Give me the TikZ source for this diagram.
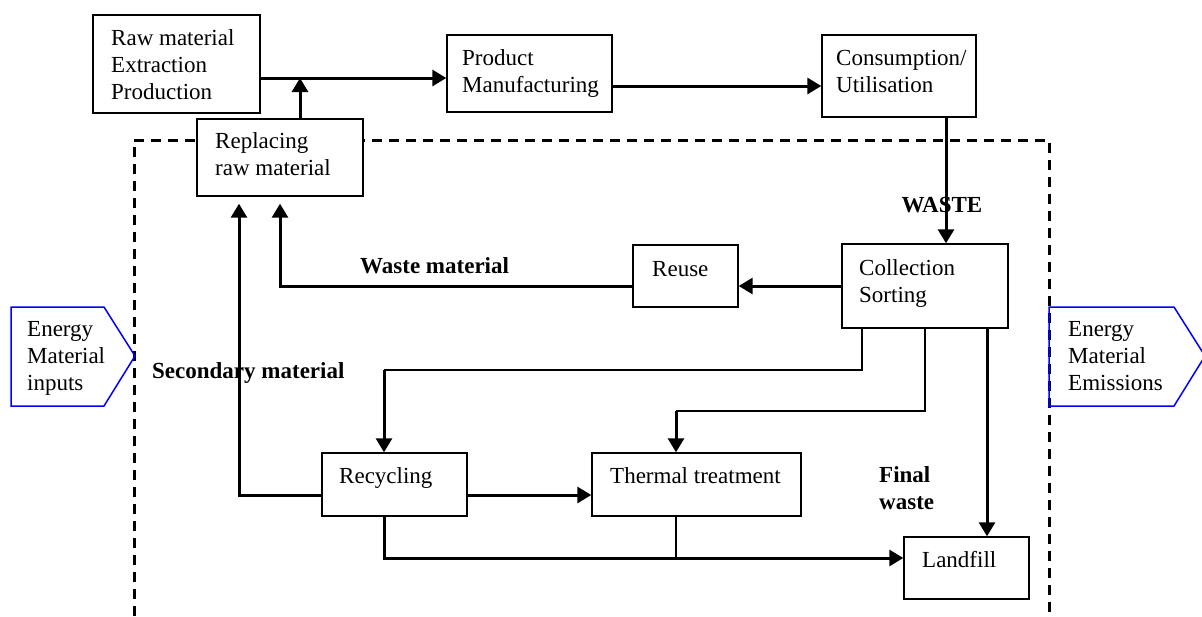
\documentclass[tikz,border=0pt]{standalone}
\usepackage{fontspec}
\setmainfont{Liberation Serif}
\usetikzlibrary{arrows.meta,fit}
\newcommand\stacklines[1]{\begin{tabular}[t]{@{}l@{}}#1\end{tabular}}
\begin{document}
\begin{tikzpicture}[x=1pt,y=-1pt,
  box/.style={draw, line width=1.4pt, fill=white, inner sep=0pt},
  txt/.style={anchor=base west, inner sep=0pt, font=\fontsize{23}{27}\selectfont},
  lbl/.style={inner sep=0pt, font=\fontsize{23}{27}\selectfont\bfseries},
  tip/.style={-{Triangle[length=14pt,width=16pt]}},
  heavy/.style={line width=3pt},
  light/.style={line width=1.3pt},
  frame/.style={line width=3pt, dash pattern=on 10pt off 7pt},
  flow/.style={draw=blue, line width=1.5pt, line join=miter}]
\useasboundingbox (0,0) rectangle (1202,616);

% system boundary (open at the bottom)
\draw[frame] (134,616) -- (134,140) -- (1049,140) -- (1049,616);

% inputs and outputs of the system
\draw[flow] (11,307) -- (104,307) -- (135,356) -- (104,406) -- (11,406) -- cycle;
\draw[flow] (1049,307) -- (1174,307) -- (1205,356) -- (1174,406) -- (1049,406) -- cycle;
\node[txt] (inp) at (27,336) {\stacklines{Energy\\Material\\inputs}};
\node[txt] (emi) at (1068,336) {\stacklines{Energy\\Material\\Emissions}};

% process boxes
\node[box, fit={(93,15)(260,113)}] (raw) {};
\node[box, fit={(447,35)(612,112)}] (prod) {};
\node[box, fit={(822,35)(976,117)}] (cons) {};
\node[box, fit={(197,119)(363,196)}] (rep) {};
\node[box, fit={(842,244)(1008,328)}] (coll) {};
\node[box, fit={(633,245)(738,307)}] (reuse) {};
\node[box, fit={(322,453)(467,516)}] (rec) {};
\node[box, fit={(592,453)(801,516)}] (therm) {};
\node[box, fit={(904,537)(1029,599)}] (land) {};

\node[txt] (raw-t) at (111,45) {\stacklines{Raw material\\Extraction\\Production}};
\node[txt] (prod-t) at (462,65) {\stacklines{Product\\Manufacturing}};
\node[txt] (cons-t) at (836,65) {\stacklines{Consumption/\\Utilisation}};
\node[txt] (rep-t) at (215,148) {\stacklines{Replacing\\raw material}};
\node[txt] (coll-t) at (859,275) {\stacklines{Collection\\Sorting}};
\node[txt] (reuse-t) at (652,276) {Reuse};
\node[txt] (rec-t) at (339,483) {Recycling};
\node[txt] (therm-t) at (610,483) {Thermal treatment};
\node[txt] (land-t) at (922,567) {Landfill};

% flow labels
\node[lbl, anchor=base] (waste) at (942,212) {WASTE};
\node[lbl, anchor=base west] (wmat) at (360,273) {Waste material};
\node[lbl, anchor=base west] (smat) at (152,378) {Secondary material};
\node[lbl, anchor=base west] (fin) at (879,482) {\stacklines{Final\\waste}};

% routing points
\coordinate (j) at (300,78);
\coordinate (pc) at (0,86);
\coordinate (wx) at (946,0);
\coordinate (rx) at (239,0);
\coordinate (ry) at (0,495);
\coordinate (c1) at (862,370);
\coordinate (c2) at (925,411);
\coordinate (rin) at (384,370);
\coordinate (tin) at (676,411);
\coordinate (fx) at (987,0);
\coordinate (ly) at (0,558);

% main chain
\draw[heavy, tip] (raw.east |- j) -- (prod.west |- j);
\draw[heavy, tip] (j |- rep.north) -- (j);
\draw[heavy, tip] (prod.east |- pc) -- (cons.west |- pc);
\draw[heavy, tip] (cons.south -| wx) -- (coll.north -| wx);

% reuse loop
\draw[heavy, tip] (coll.west) -- (reuse.east |- coll.west);
\draw[heavy, tip, shorten >=7pt] (reuse.west |- coll.west) -| (rep.south);

% secondary material
\draw[heavy, tip, shorten >=7pt] (rec.west |- ry) -| (rx |- rep.south);

% collection to recycling and thermal treatment
\draw[light] (coll.south -| c1) -- (c1) -- (rin);
\draw[heavy, tip] (rin) -- (rec.north -| rin);
\draw[light] (coll.south -| c2) -- (c2) -- (tin);
\draw[heavy, tip] (tin) -- (therm.north -| tin);
\draw[heavy, tip] (rec.east |- ry) -- (therm.west |- ry);

% final waste
\draw[heavy, tip] (coll.south -| fx) -- (land.north -| fx);
\draw[heavy, tip] (rec.south -| rin) -- (rin |- ly) -- (land.west |- ly);
\draw[light] (therm.south -| tin) -- (tin |- ly);
\end{tikzpicture}
\end{document}
